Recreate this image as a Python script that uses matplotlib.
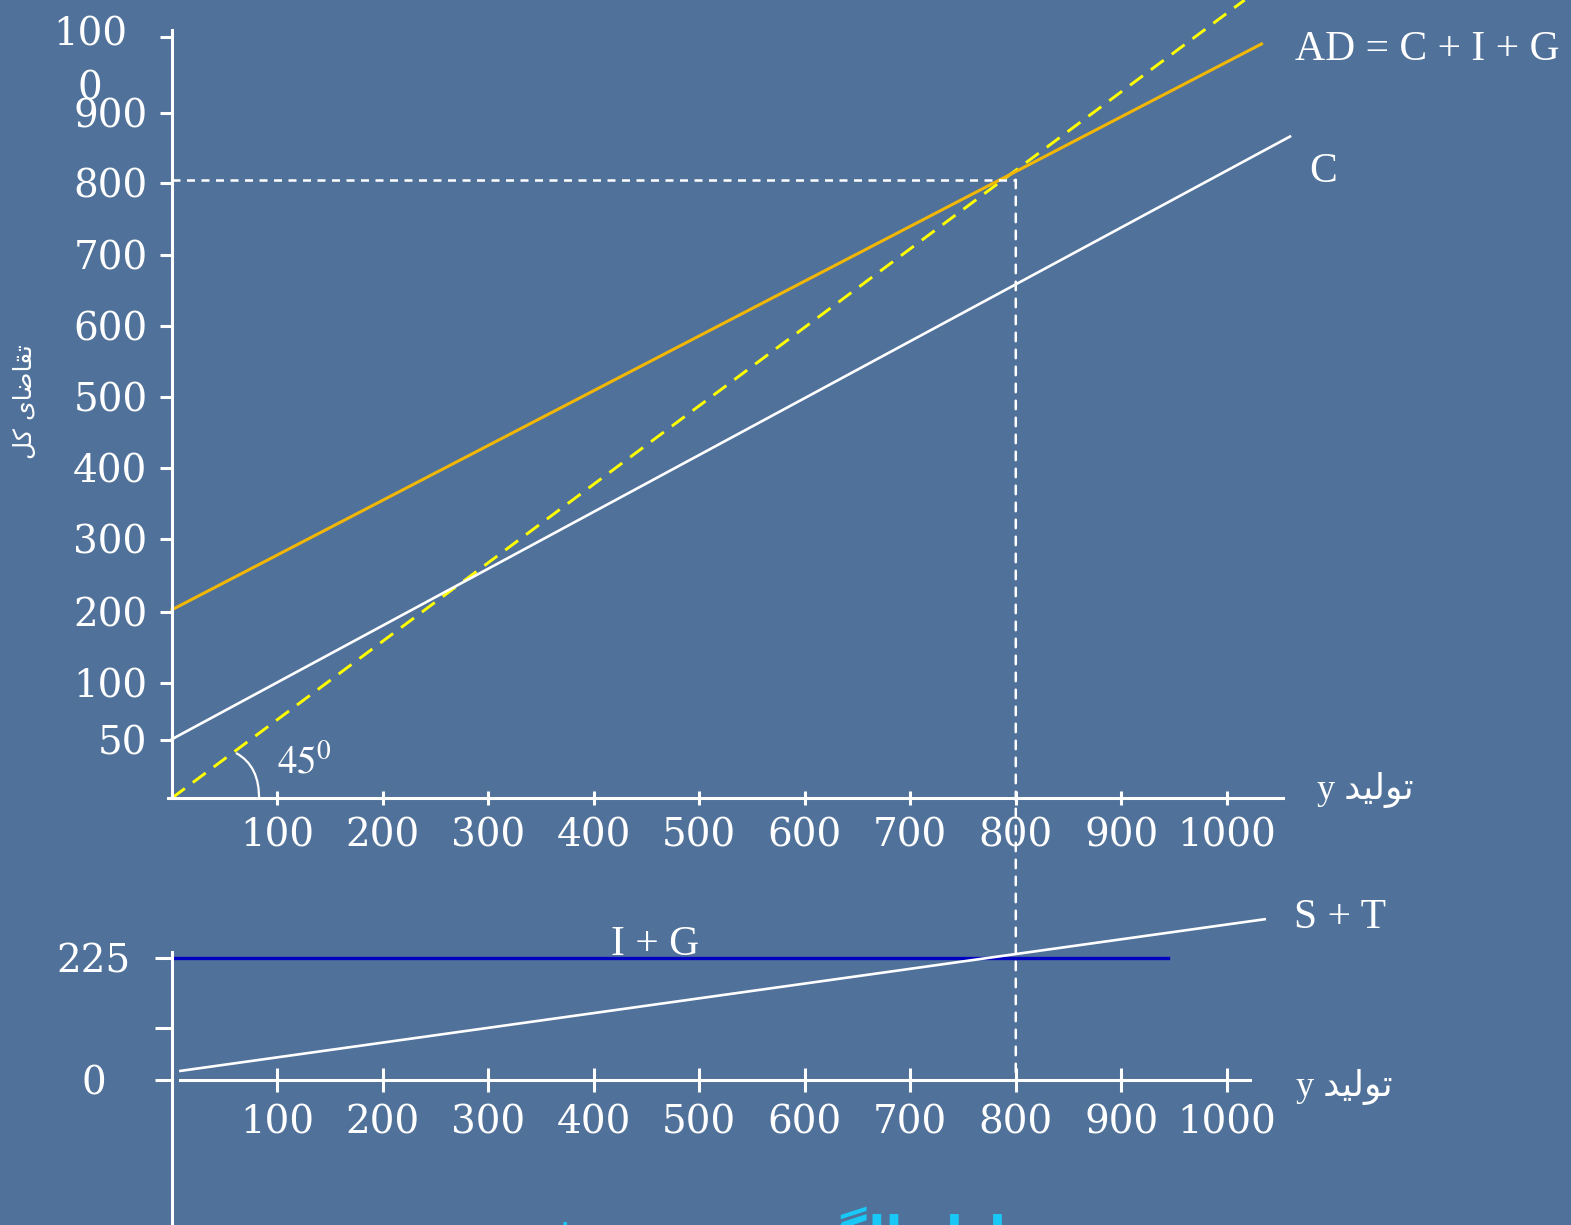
import matplotlib.pyplot as plt
import matplotlib.transforms as mtransforms
from matplotlib.patches import ConnectionPatch, PathPatch
from matplotlib.path import Path

W, H, DPI = 1571, 1225, 100
BG = '#50719a'

# ---- data ----
# upper panel: output y vs aggregate demand
LINE45_X = [0, 1017]
LINE45_Y = [0, 1017]
AD_X = [0, 1033]
AD_Y = [240, 961]
C_X = [0, 1060]
C_Y = [75, 843]
EQ_X = 800
EQ_Y = 788

OUT_TICKS = [100, 200, 300, 400, 500, 600, 700, 800, 900, 1000]
OUT_LABELS = ['100', '200', '300', '400', '500', '600', '700', '800', '900', '1000']
AD_TICK_LABELS = ['50', '100', '200', '300', '400', '500', '600', '700', '800', '900', '']

# lower panel: injections vs leakages
IG_X = [0, 944]
IG_Y = [225, 225]
ST_X = [8, 1036]
ST_Y = [17, 297]
LOW_TICK_LABELS = ['0', '', '225']

# where the hand-drawn slide put its y ticks (not evenly spaced)
AD_TICK_POS = [74, 147, 237, 330, 421, 511, 601, 692, 784, 873, 970]
LOW_TICK_POS = [0, 96, 226]

# Persian text, pre-shaped (presentation forms, visual order)
TOLID = '\uFEAA\uFEF4\uFEDF\uFEEE\uFE97'
TAGHAZA_KOL = '\uFEDE\uFB90 \uFEEF\uFE8E\uFEBF\uFE8E\uFED8\uFE97'
TITLE = ('\uFEF0\uFEB8\uFEA8\uFE91 \uFEEA\uFEB3 '
         '\uFEEF\uFEEE\uFB95\uFEDF\uFE8D \uFEDD\uFEA9\uFE8E\uFECC\uFE97')

plt.rcParams['mathtext.fontset'] = 'stix'
NUM_FONT = 'DejaVu Serif'
NUM_SIZE = 28
LBL_FONT = ['Liberation Serif', 'DejaVu Sans']


def px_box(left, top, width, height):
    return [left / W, 1 - (top + height) / H, width / W, height / H]


fig = plt.figure(figsize=(W / DPI, H / DPI), dpi=DPI, facecolor=BG)

# ---------------- upper panel ----------------
ax1 = fig.add_axes(px_box(172, 0, 1118, 798))
ax1.patch.set_visible(False)
ax1.set_xlim(0, 1060)
ax1.set_ylim(0, 1017)
for s in ['top', 'right']:
    ax1.spines[s].set_visible(False)
for s in ['left', 'bottom']:
    ax1.spines[s].set_color('white')
    ax1.spines[s].set_linewidth(2.2)
ax1.spines['left'].set_bounds(0, 979)
ax1.spines['bottom'].set_bounds(-4, 1053)

ax1.plot(LINE45_X, LINE45_Y, color='#ffff00', lw=2.1, dashes=(5.5, 3.4))
ax1.plot(AD_X, AD_Y, color='#f2b705', lw=2.2, clip_on=False)
ax1.plot(C_X, C_Y, color='white', lw=1.9, clip_on=False)
ax1.plot([0, EQ_X], [EQ_Y, EQ_Y], color='white', lw=1.8, dashes=(3.2, 2.6))

ax1.set_xticks(OUT_TICKS, OUT_LABELS, fontfamily=NUM_FONT)
ax1.set_yticks(AD_TICK_POS, AD_TICK_LABELS, fontfamily=NUM_FONT)
ax1.tick_params(axis='x', direction='inout', length=9.5, width=2.2, color='white',
                labelcolor='white', labelsize=NUM_SIZE, pad=9.5)
ax1.tick_params(axis='y', direction='out', length=8.6, width=2.2, color='white',
                labelcolor='white', labelsize=NUM_SIZE, pad=9)
# the "1000" label wrapped onto two lines on the slide
ax1.annotate('100\n0', xy=(0, AD_TICK_POS[-1]), xytext=(-59, 15), textcoords='offset points',
             ha='center', va='top', color='white', fontsize=NUM_SIZE, fontfamily=NUM_FONT,
             linespacing=1.6, annotation_clip=False)

ax1.annotate('AD = C + I + G', xy=(AD_X[-1], AD_Y[-1]), xytext=(24, -4),
             textcoords='offset points', ha='left', va='center', color='white',
             fontsize=30, fontfamily=LBL_FONT, annotation_clip=False)
ax1.annotate('C', xy=(C_X[-1], C_Y[-1]), xytext=(14, -25), textcoords='offset points',
             ha='left', va='center', color='white', fontsize=30, fontfamily=LBL_FONT,
             annotation_clip=False)
ax1.annotate('y ' + TOLID, xy=(1053, 0), xytext=(25, 6), textcoords='offset points',
             ha='left', va='center', color='white', fontsize=26, fontfamily=LBL_FONT,
             annotation_clip=False)
ax1.text(100, 46, r'$\mathrm{45^{0}}$', color='white', fontsize=28, ha='left', va='center')

# little arc marking the 45 degree angle (pixel offsets from the origin)
ox, oy = ax1.transData.transform((0, 0))
arc = Path([(64, 45), (88, 32), (87, -2)], [Path.MOVETO, Path.CURVE3, Path.CURVE3])
ax1.add_patch(PathPatch(arc, fill=False, ec='white', lw=1.6,
                        transform=mtransforms.Affine2D().translate(ox, oy), clip_on=False))

fig.text(25 / W, 1 - 402 / H, TAGHAZA_KOL, rotation=90, ha='center', va='center',
         color='white', fontsize=18, family='DejaVu Sans')

# ---------------- lower panel ----------------
ax2 = fig.add_axes(px_box(172, 900, 1118, 325))
ax2.patch.set_visible(False)
ax2.set_xlim(0, 1060)
ax2.set_ylim(-267.5, 332.5)
for s in ['top', 'right']:
    ax2.spines[s].set_visible(False)
for s in ['left', 'bottom']:
    ax2.spines[s].set_color('white')
    ax2.spines[s].set_linewidth(2.2)
ax2.spines['bottom'].set_position(('data', 0))
ax2.spines['bottom'].set_bounds(8, 1022)
ax2.spines['left'].set_bounds(-267.5, 236)

ax2.plot(IG_X, IG_Y, color='#0000c0', lw=2.4)
ax2.plot(ST_X, ST_Y, color='white', lw=1.9, clip_on=False)

ax2.set_xticks(OUT_TICKS, OUT_LABELS, fontfamily=NUM_FONT)
ax2.set_yticks(LOW_TICK_POS, LOW_TICK_LABELS, fontfamily=NUM_FONT, ha='center')
ax2.tick_params(axis='x', direction='inout', length=17, width=2.2, color='white',
                labelcolor='white', labelsize=NUM_SIZE, pad=9)
ax2.tick_params(axis='y', direction='out', length=12.2, width=2.2, color='white',
                labelcolor='white', labelsize=NUM_SIZE, pad=44)

ax2.text(458, IG_Y[0], 'I + G', ha='center', va='baseline', color='white',
         fontsize=30, fontfamily=LBL_FONT,
         transform=ax2.transData + mtransforms.Affine2D().translate(0, 3))
ax2.annotate('S + T', xy=(ST_X[-1], ST_Y[-1]), xytext=(21, 1), textcoords='offset points',
             ha='left', va='center', color='white', fontsize=30, fontfamily=LBL_FONT,
             annotation_clip=False)
ax2.annotate('y ' + TOLID, xy=(1022, 0), xytext=(33, -5), textcoords='offset points',
             ha='left', va='center', color='white', fontsize=26, fontfamily=LBL_FONT,
             annotation_clip=False)

# equilibrium output, dashed line through both panels
fig.add_artist(ConnectionPatch(xyA=(EQ_X, EQ_Y), coordsA=ax1.transData,
                               xyB=(EQ_X, 0), coordsB=ax2.transData,
                               color='white', lw=1.8, linestyle=(0, (3.4, 3.4))))

# slide title, cut off by the bottom edge as on the slide
fig.text(772 / W, 1 - 1206 / H, TITLE, ha='center', va='top', color='#18c8f6',
         fontsize=36, fontweight='bold', family='DejaVu Sans')

fig.savefig('out.png', dpi=DPI, facecolor=BG)
